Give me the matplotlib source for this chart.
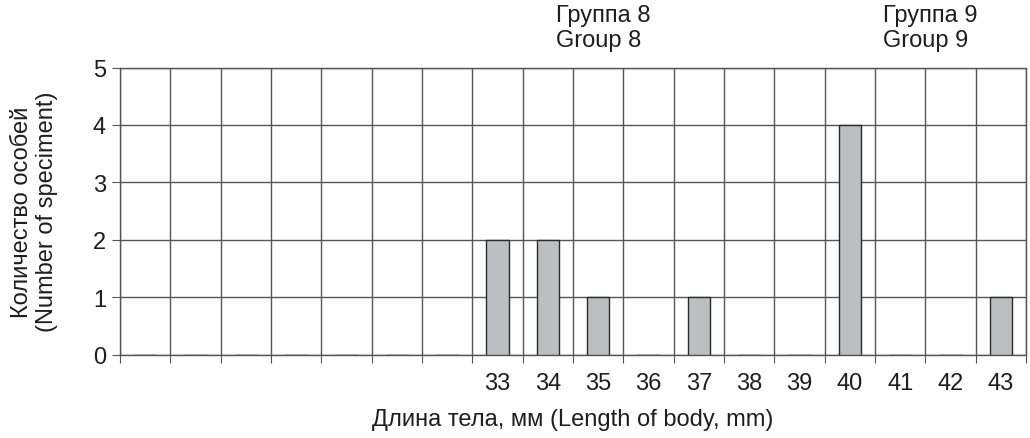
import numpy as np
import matplotlib
matplotlib.use("Agg")
import matplotlib.pyplot as plt
from matplotlib.ticker import FixedLocator
import matplotlib.transforms as mtransforms

plt.rcParams["font.family"] = ["Liberation Sans", "DejaVu Sans"]

# Body length classes (first 7 columns unlabeled)
lengths = ["", "", "", "", "", "", "", "33", "34", "35", "36", "37", "38", "39", "40", "41", "42", "43"]
counts = [0, 0, 0, 0, 0, 0, 0, 2, 2, 1, 0, 1, 0, 0, 4, 0, 0, 1]
group_labels = ["Группа 8\nGroup 8", "Группа 9\nGroup 9"]
group_x = [8.16, 14.66]

text_color = "#1e1e1e"
grid_color = "#555555"
fs = 17

fig = plt.figure(figsize=(10.30, 4.39), dpi=100)
fig.subplots_adjust(left=120 / 1030, right=1026 / 1030, top=1 - 68.5 / 439, bottom=1 - 355.7 / 439)
ax = fig.add_subplot(111)

x = np.arange(len(lengths))
ax.bar(x, counts, width=0.45, color="#bdbec2", edgecolor="#2a2a2a", linewidth=1.0, zorder=3)

ax.set_xlim(-0.5, len(lengths) - 0.5)
ax.set_ylim(0, 5)

# labels in the middle of each column, ticks and grid on column borders
ax.set_xticks(x)
ax.set_xticklabels(lengths)
ax.xaxis.set_minor_locator(FixedLocator(np.arange(-0.5, len(lengths), 1.0)))
ax.tick_params(axis="x", which="major", length=0, pad=12.5, labelsize=fs, labelcolor=text_color)
ax.tick_params(axis="x", which="minor", length=6, width=0.8, color=grid_color)
ax.set_yticks(range(0, 6))
ax.tick_params(axis="y", length=6, width=0.8, color=grid_color, pad=4, labelsize=fs, labelcolor=text_color)

ax.grid(True, axis="x", which="minor", color=grid_color, linewidth=1, zorder=0)
ax.grid(True, axis="y", which="major", color=grid_color, linewidth=1, zorder=0)
ax.set_axisbelow(True)
for s in ax.spines.values():
    s.set_color(grid_color)
    s.set_linewidth(1)

ax.set_xlabel("Длина тела, мм (Length of body, mm)", fontsize=fs, color=text_color)
ax.xaxis.set_label_coords(0.5, -0.185)
ax.set_ylabel("Количество особей\n(Number of speciment)", fontsize=fs, color=text_color, linespacing=1.2)
ax.yaxis.set_label_coords(-0.068, 0.5)

trans = mtransforms.blended_transform_factory(ax.transData, fig.transFigure)
for gx, gl in zip(group_x, group_labels):
    ax.text(gx, 1 - 5 / 439, gl, transform=trans, ha="left", va="top",
            fontsize=fs, color=text_color, linespacing=1.2)

fig.savefig("out.png", dpi=100)
